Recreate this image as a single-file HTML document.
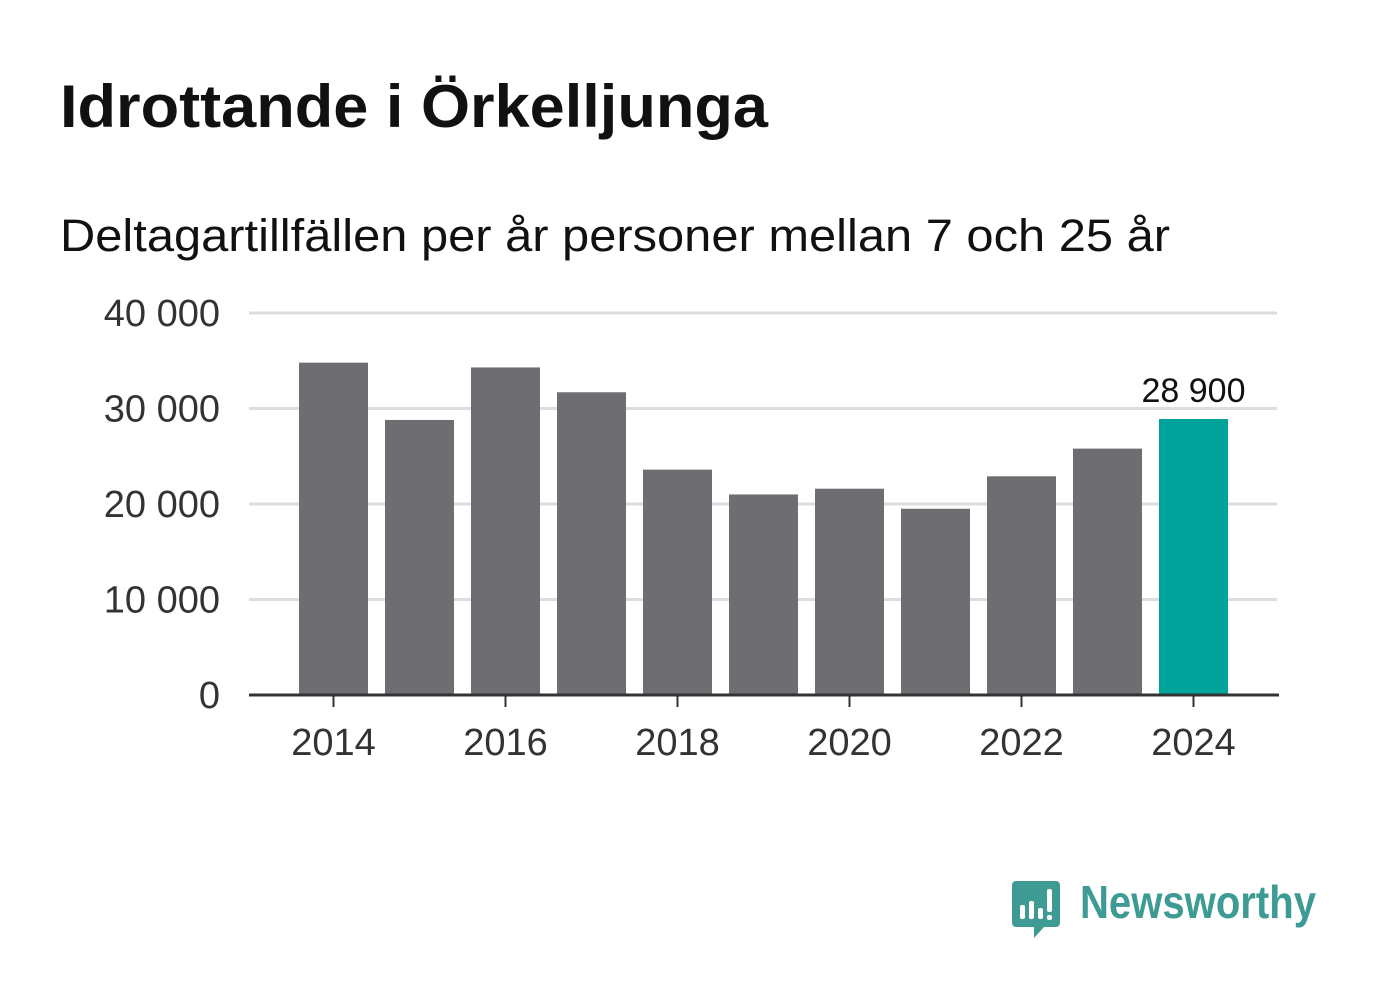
<!DOCTYPE html>
<html><head><meta charset="utf-8"><style>
body{margin:0;background:#fff;}
svg{display:block;font-family:"Liberation Sans","DejaVu Sans",sans-serif;}
</style></head><body>
<svg id="chart" width="1382" height="999">
<text x="60" y="127" font-size="60" font-weight="bold" fill="#111" textLength="708" lengthAdjust="spacingAndGlyphs">Idrottande i Örkelljunga</text>
<text x="60" y="251" font-size="45" fill="#111" textLength="1110" lengthAdjust="spacingAndGlyphs">Deltagartillfällen per år personer mellan 7 och 25 år</text>
<g id="grid"></g><g id="bars"></g><g id="axes"></g>
<g>
<path d="M1016,881 h40 a4,4 0 0 1 4,4 v38 a4,4 0 0 1 -4,4 h-12 l-10,11 v-11 h-18 a4,4 0 0 1 -4,-4 v-38 a4,4 0 0 1 4,-4z" fill="#3d9b94"/>
<rect x="1020" y="905" width="5" height="14" rx="2" fill="#fff"/><rect x="1029" y="901" width="5" height="18" rx="2" fill="#fff"/><rect x="1038" y="908" width="5" height="11" rx="2" fill="#fff"/><rect x="1047" y="889" width="5" height="23" rx="2" fill="#fff"/><rect x="1047" y="915" width="5" height="5" rx="2" fill="#fff"/>
<text x="1080" y="918" font-size="46" font-weight="bold" fill="#3d9b94" textLength="236" lengthAdjust="spacingAndGlyphs">Newsworthy</text>
</g>
</svg>
<script>
const years=[2014,2015,2016,2017,2018,2019,2020,2021,2022,2023,2024];
const values=[34800,28800,34300,31700,23600,21000,21600,19500,22900,25800,28900];
const yTicks=[0,10000,20000,30000,40000];
const yTickLabels=["0","10 000","20 000","30 000","40 000"];
const highlightLabel="28 900";
const NS="http://www.w3.org/2000/svg";
const y=v=>695-v*(382/40000);
const x=i=>333.5+i*86;
function mk(tag,attrs,parent,txt){const e=document.createElementNS(NS,tag);for(const k in attrs)e.setAttribute(k,attrs[k]);if(txt!=null)e.textContent=txt;parent.appendChild(e);return e;}
const grid=document.getElementById('grid'),bars=document.getElementById('bars'),axes=document.getElementById('axes');
yTicks.forEach((t,i)=>{
 if(t>0){const l=mk('line',{x1:249,x2:1277,y1:y(t),y2:y(t),stroke:'#ddd','stroke-width':3},grid);
 
 }
 const tx=mk('text',{x:220,y:y(t)+13,'text-anchor':'end','font-size':38,fill:'#333'},axes,yTickLabels[i]);
 
 
});
values.forEach((v,i)=>{
 const last=i===values.length-1;
 const r=mk('rect',{x:x(i)-34.5,y:y(v),width:69,height:695-y(v),fill:last?'#00a39a':'#6e6d72'},bars);
 
 
 if(last){const t=mk('text',{x:x(i),y:y(v)-17,'text-anchor':'middle','font-size':34,fill:'#111'},bars,highlightLabel);
 
 }
 if(years[i]%2===0){
  const tk=mk('line',{x1:x(i),x2:x(i),y1:695,y2:707,stroke:'#333','stroke-width':2},axes);
  
  
  const lb=mk('text',{x:x(i),y:755,'text-anchor':'middle','font-size':38,fill:'#333'},axes,String(years[i]));
  
  
 }
});
const ax=mk('line',{x1:249,x2:1279,y1:695,y2:695,stroke:'#333','stroke-width':3},axes);


</script>
</body></html>
